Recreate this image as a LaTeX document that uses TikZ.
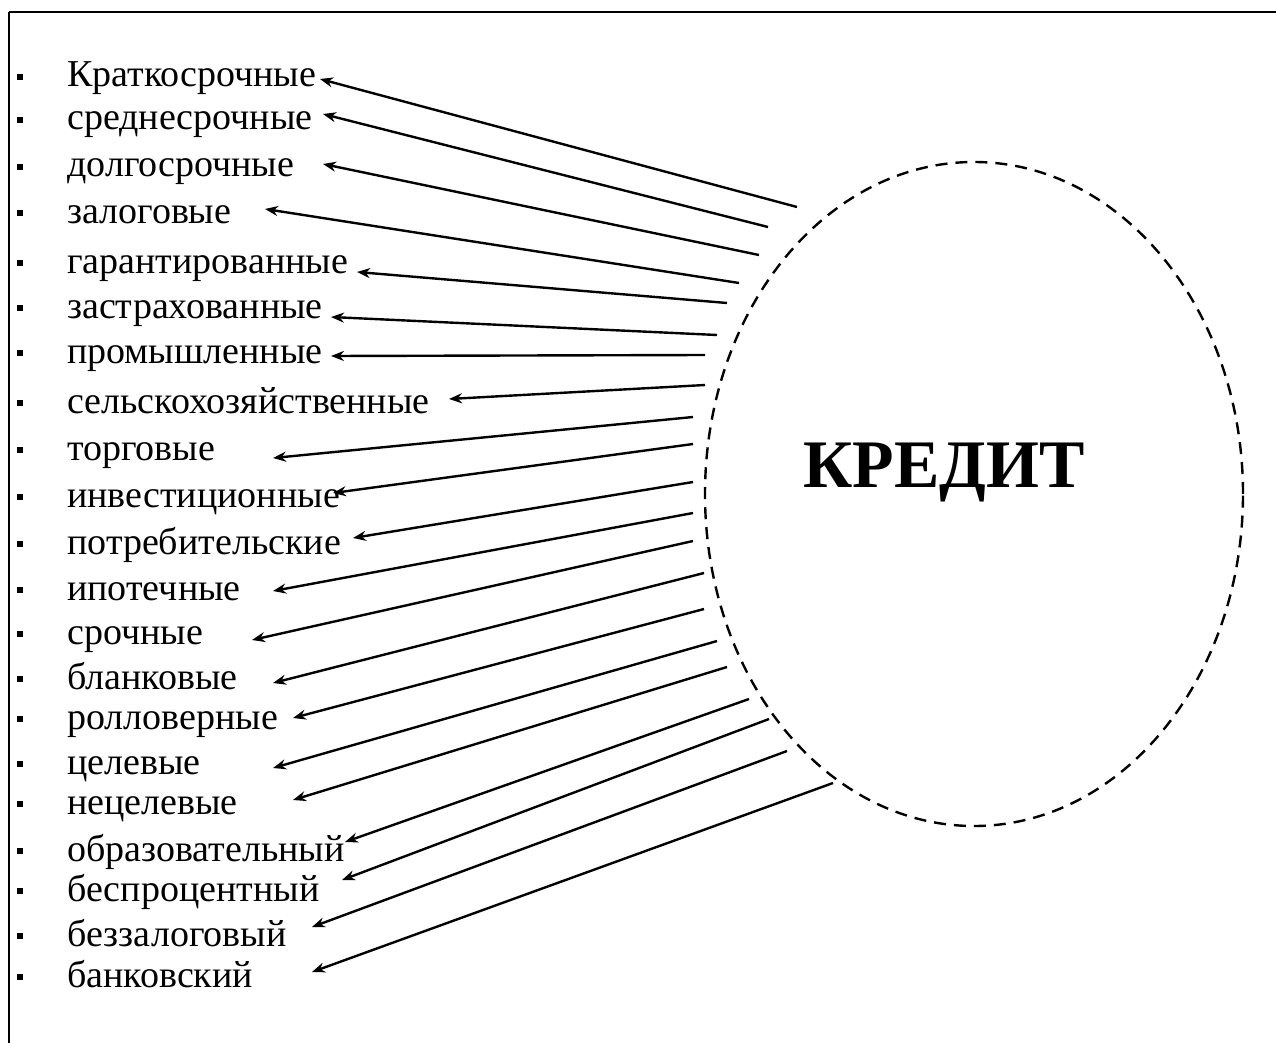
\documentclass[tikz,border=0pt]{standalone}
\usepackage{fontspec}
\setmainfont{Liberation Serif}
\usetikzlibrary{shapes.geometric, arrows.meta}

\begin{document}
\begin{tikzpicture}[x=1pt, y=-1pt,
    item/.style={anchor=base west, inner sep=0pt, font=\fontsize{38}{42}\selectfont},
    bullet/.style={rectangle, fill=black, minimum size=6.5pt, inner sep=0pt},
    arrow/.style={-{Stealth[length=13pt, width=10pt]}, line width=2.4pt},
    oval/.style={ellipse, draw, dash pattern=on 12pt off 8pt, line width=2.4pt,
                 minimum width=538pt, minimum height=664pt, inner sep=0pt},
    title/.style={anchor=base, inner sep=0pt, font=\fontsize{68}{72}\selectfont\bfseries}
]
\useasboundingbox (0,0) rectangle (1276,1043);
\clip (0,0) rectangle (1276,1043);
% --- frame ---
\draw [line width=2.4pt] (9,12) -- (1320,12);
\draw [line width=2.4pt] (9,12) -- (9,1100);

% --- central oval ---
\node (krug) [oval] at (974,494) {};
\node (kredit) [title] at (944,487) {КРЕДИТ};

% --- list of kinds ---
\foreach \i/\txt/\yb/\tx/\ty/\sx/\sy in {
    1/Краткосрочные/87/320/79/797/207,
    2/среднесрочные/130/323/114/768/227,
    3/долгосрочные/177/323/164/759/255,
    4/залоговые/223/265/209/739/283,
    5/гарантированные/273/357/272/727/303,
    6/застрахованные/318/331/317/717/335,
    7/промышленные/363/331/356/705/355,
    8/сельскохозяйственные/413/449/399/705/385,
    9/торговые/460/273/458/693/417,
    10/инвестиционные/507/333/493/693/444,
    11/потребительские/554/353/538/693/482,
    12/ипотечные/600/273/591/693/513,
    13/срочные/644/252/640/693/541,
    14/бланковые/689/273/683/704/573,
    15/ролловерные/729/293/718/704/609,
    16/целевые/774/273/768/717/641,
    17/нецелевые/814/293/800/727/667,
    18/образовательный/861/345/842/749/699,
    19/беспроцентный/901/342/880/769/719,
    20/беззалоговый/946/312/927/787/751,
    21/банковский/987/312/972/833/783}{
  \node (kind\i) [item] at (67,\yb) {\txt};
  \node (bul\i) [bullet] at (20,\yb-10) {};
  \coordinate (tip\i) at (\tx,\ty);
  \coordinate (src\i) at (\sx,\sy);
  \draw [arrow] (src\i) -- (tip\i);
}
\end{tikzpicture}
\end{document}
